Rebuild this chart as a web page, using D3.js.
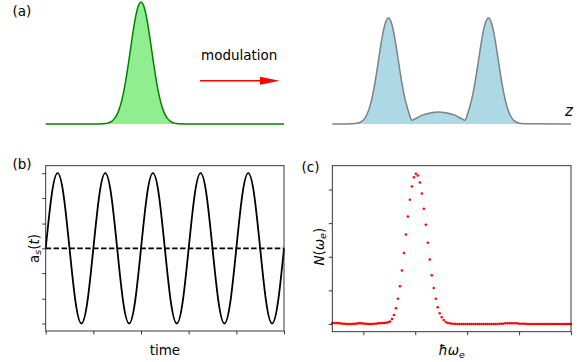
<!DOCTYPE html>
<html>
<head>
<meta charset="utf-8">
<script src="https://cdn.jsdelivr.net/npm/d3@7"></script>
<style>
  body { margin: 0; background: #fff; }
  text { font-family: "DejaVu Sans", sans-serif; fill: #000; }
</style>
</head>
<body>
<div id="chart"></div>
<script>
// (a) pulse before modulation, z in 0..100 across the panel
const pulseZ   = [0, 20, 24, 25, 26, 27, 28, 29, 30, 31, 32, 33, 34, 35, 36, 37, 38, 39, 40,
                  41, 42, 43, 44, 45, 46, 47, 48, 49, 50, 51, 52, 53, 54, 55, 56, 60, 100];
const pulseAmp = [0, 0, 0.002, 0.004, 0.007, 0.014, 0.027, 0.048, 0.081, 0.131, 0.2, 0.292, 0.405, 0.534, 0.669, 0.798, 0.904, 0.975, 1,
                  0.975, 0.904, 0.798, 0.669, 0.534, 0.405, 0.292, 0.2, 0.131, 0.081, 0.048, 0.027, 0.014, 0.007, 0.004, 0.002, 0, 0];

// (a) pulse after modulation
const splitZ   = [0, 8.5, 10.5, 11.5, 12.5, 13.5, 14.5, 15.5, 16.5, 17.5, 18.5, 19.5, 20.5, 21.5, 22.5, 23.5,
                  24.5, 25.5, 26.5, 27.5, 28.5, 29.5, 30.5, 31.5, 32.5, 33.3, 35, 38, 41.5, 44.5, 47.5, 51, 54, 55.6,
                  56.4, 57.4, 58.4, 59.4, 60.4, 61.4, 62.4, 63.4, 64.4, 65.4,
                  66.4, 67.4, 68.4, 69.4, 70.4, 71.4, 72.4, 73.4, 74.4, 75.4, 76.4, 77.4, 78.4, 80.4, 100];
const splitAmp = [0, 0.002, 0.006, 0.012, 0.024, 0.044, 0.078, 0.129, 0.202, 0.298, 0.413, 0.541, 0.666, 0.773, 0.845, 0.87,
                  0.845, 0.773, 0.666, 0.541, 0.413, 0.298, 0.202, 0.13, 0.065, 0.03, 0.045, 0.075, 0.093, 0.098, 0.093, 0.075, 0.045, 0.03,
                  0.065, 0.13, 0.202, 0.298, 0.413, 0.541, 0.666, 0.773, 0.845, 0.87,
                  0.845, 0.773, 0.666, 0.541, 0.413, 0.298, 0.202, 0.129, 0.078, 0.044, 0.024, 0.012, 0.006, 0.002, 0];

// (b) a_s(t), one sample every 1/8 of a period, 5 periods
const drive = [0, 0.71, 1, 0.71, 0, -0.71, -1, -0.71,
               0, 0.71, 1, 0.71, 0, -0.71, -1, -0.71,
               0, 0.71, 1, 0.71, 0, -0.71, -1, -0.71,
               0, 0.71, 1, 0.71, 0, -0.71, -1, -0.71,
               0, 0.71, 1, 0.71, 0, -0.71, -1, -0.71, 0];
const driveTimeTicks = [0, 8, 16, 24, 32, 40];
const driveAmpTicks = [-1, -0.67, -0.33, 0, 0.33, 0.67, 1];

// (c) N(w_e), 121 energy samples
const spectrum = [
  0.03, 0.03, 0.03, 0.02, 0.02, 0.01, 0.01, 0.0, 0.0, 0.0,
  0.0, 0.01, 0.01, 0.02, 0.02, 0.02, 0.01, 0.01, 0.0, 0.0,
  0.0, 0.01, 0.01, 0.02, 0.02, 0.03, 0.03, 0.04, 0.05,
  0.07, 0.15, 0.27, 0.47, 0.75, 1.12, 1.59, 2.11, 2.66, 3.20,
  3.70, 4.09, 4.37, 4.47, 4.42, 4.21, 3.88, 3.43, 2.95, 2.42,
  1.92, 1.45, 1.07, 0.75, 0.50, 0.32, 0.20, 0.12, 0.06, 0.03,
  0.02, 0.01, 0.01, 0.0, 0.0, 0.0, 0.0, 0.0, 0.0, 0.0,
  0.0, 0.0, 0.0, 0.0, 0.0, 0.0, 0.0, 0.0, 0.0, 0.0,
  0.0, 0.0, 0.0, 0.0, 0.0, 0.01, 0.01, 0.01, 0.02, 0.02,
  0.02, 0.02, 0.02, 0.02, 0.02, 0.01, 0.01, 0.01, 0.01, 0.0,
  0.0, 0.0, 0.0, 0.0, 0.0, 0.0, 0.0, 0.0, 0.0, 0.0,
  0.0, 0.0, 0.0, 0.0, 0.0, 0.0, 0.0, 0.0, 0.0, 0.0,
  0.0, 0.0];
const energyTicks = [15.6, 41.7, 67.8, 93.9, 120];
const countTicks = [0, 1, 2, 3, 4];

const svg = d3.select("#chart").append("svg")
  .attr("width", 582)
  .attr("height", 362);

// ---------- (a)
const xLeft = d3.scaleLinear().domain([0, 100]).range([45.7, 284]);
const xRight = d3.scaleLinear().domain([0, 100]).range([332.3, 571]);
const yPulse = d3.scaleLinear().domain([0, 1]).range([124, 2]);

function drawProfile(zs, amps, xs, fill, stroke) {
  const pts = zs.map((z, i) => [z, amps[i]]);
  const area = d3.area()
    .x(d => xs(d[0])).y0(yPulse(0)).y1(d => yPulse(d[1]))
    .curve(d3.curveMonotoneX);
  const line = d3.line()
    .x(d => xs(d[0])).y(d => yPulse(d[1]))
    .curve(d3.curveMonotoneX);
  svg.append("path").attr("d", area(pts)).attr("fill", fill);
  svg.append("path").attr("d", line(pts))
    .attr("fill", "none")
    .attr("stroke", stroke)
    .attr("stroke-width", 1.5);
}

drawProfile(pulseZ, pulseAmp, xLeft, "#90ee90", "#008000");
drawProfile(splitZ, splitAmp, xRight, "#add8e6", "#808080");

// arrow
svg.append("line")
  .attr("x1", 200).attr("x2", 262)
  .attr("y1", 80.7).attr("y2", 80.7)
  .attr("stroke", "red").attr("stroke-width", 1.5);
svg.append("path")
  .attr("d", "M260,76.7 L279.5,80.7 L260,84.7 Z")
  .attr("fill", "red");

svg.append("text").attr("x", 201).attr("y", 60).attr("font-size", 13.5).text("modulation");
svg.append("text").attr("x", 12.5).attr("y", 15.5).attr("font-size", 13.5).text("(a)");
svg.append("text").attr("x", 565).attr("y", 116).attr("font-size", 15)
  .attr("font-style", "italic").text("z");

// ---------- shared frame + ticks
function frame(x0, x1, y0, y1) {
  svg.append("rect")
    .attr("x", x0).attr("y", y0)
    .attr("width", x1 - x0).attr("height", y1 - y0)
    .attr("fill", "none")
    .attr("stroke", "#222")
    .attr("stroke-width", 0.9);
}

function ticks(xs, ys, xt, yt) {
  const ax = svg.append("g")
    .attr("transform", "translate(0," + ys.range()[0] + ")")
    .call(d3.axisBottom(xs).tickValues(xt).tickSize(3.5).tickSizeOuter(0).tickFormat(""));
  const ay = svg.append("g")
    .attr("transform", "translate(" + xs.range()[0] + ",0)")
    .call(d3.axisLeft(ys).tickValues(yt).tickSize(3.5).tickSizeOuter(0).tickFormat(""));
  [ax, ay].forEach(g => {
    g.select(".domain").remove();
    g.selectAll("line").attr("stroke", "#222").attr("stroke-width", 0.9);
  });
}

// ---------- (b)
const xb = d3.scaleLinear().domain([0, 40]).range([45.7, 284]);
const yb = d3.scaleLinear().domain([-1.1, 1.1]).range([331, 165.7]);

svg.append("path")
  .attr("d", d3.line().x(d => xb(d[0])).y(d => yb(d[1]))([[0, 0], [40, 0]]))
  .attr("stroke", "#000")
  .attr("stroke-width", 1.6)
  .attr("stroke-dasharray", "5.5,2.4");

svg.append("path")
  .attr("d", d3.line().x((d, i) => xb(i)).y(d => yb(d)).curve(d3.curveNatural)(drive))
  .attr("fill", "none")
  .attr("stroke", "#000")
  .attr("stroke-width", 1.8);

frame(45.7, 284, 165.7, 331);
ticks(xb, yb, driveTimeTicks, driveAmpTicks);

svg.append("text").attr("x", 12.5).attr("y", 168.5).attr("font-size", 13.5).text("(b)");
svg.append("text").attr("x", 164.9).attr("y", 355).attr("font-size", 13.5)
  .attr("text-anchor", "middle").text("time");

const bLabel = svg.append("text")
  .attr("transform", "translate(38.5,248.4) rotate(-90)")
  .attr("text-anchor", "middle")
  .attr("font-size", 13.5);
bLabel.append("tspan").text("a");
bLabel.append("tspan").attr("font-size", 9.5).attr("font-style", "italic").attr("dy", 2.5).text("s");
bLabel.append("tspan").attr("dy", -2.5).text("(");
bLabel.append("tspan").attr("font-style", "italic").text("t");
bLabel.append("tspan").text(")");

// ---------- (c)
const xc = d3.scaleLinear().domain([0, 120]).range([332.3, 571]);
const yc = d3.scaleLinear().domain([-0.23, 4.71]).range([331.7, 165.7]);

svg.append("g").selectAll("circle")
  .data(spectrum)
  .enter()
    .append("circle")
    .attr("cx", (d, i) => xc(i))
    .attr("cy", d => yc(d))
    .attr("r", 1.25)
    .attr("fill", "red");

frame(332.3, 571, 165.7, 331.7);
ticks(xc, yc, energyTicks, countTicks);

svg.append("text").attr("x", 301.5).attr("y", 171.5).attr("font-size", 13.5).text("(c)");

const cX = svg.append("text")
  .attr("x", 451.7).attr("y", 355)
  .attr("text-anchor", "middle")
  .attr("font-size", 13.5);
cX.append("tspan").attr("font-style", "italic").text("\u0127\u03c9");
cX.append("tspan").attr("font-size", 9.5).attr("font-style", "italic").attr("dy", 2.5).text("e");

const cY = svg.append("text")
  .attr("transform", "translate(323.5,246.7) rotate(-90)")
  .attr("text-anchor", "middle")
  .attr("font-size", 13.5);
cY.append("tspan").attr("font-style", "italic").text("N");
cY.append("tspan").text("(");
cY.append("tspan").attr("font-style", "italic").text("\u03c9");
cY.append("tspan").attr("font-size", 9.5).attr("font-style", "italic").attr("dy", 2.5).text("e");
cY.append("tspan").attr("dy", -2.5).text(")");
</script>
</body>
</html>
